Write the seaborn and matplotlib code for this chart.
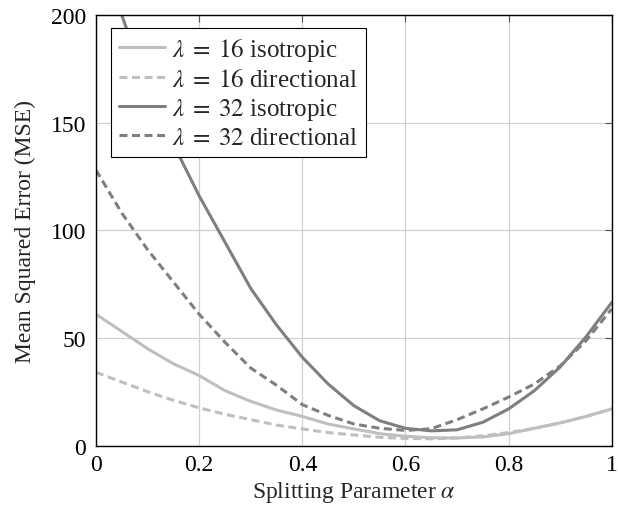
import numpy as np
import pandas as pd
import matplotlib
matplotlib.use("Agg")
import matplotlib.pyplot as plt
import seaborn as sns

# ---------------------------------------------------------------------------
# Dati
# ---------------------------------------------------------------------------

alpha = [0.0, 0.05, 0.1, 0.15, 0.2, 0.25, 0.3, 0.35, 0.4, 0.45, 0.5,
         0.55, 0.6, 0.65, 0.7, 0.75, 0.8, 0.85, 0.9, 0.95, 1.0]

mse_16_iso = [61, 53, 45, 38, 32.5, 25.5, 20.5, 16.5, 13.5, 10, 7.7,
              5.5, 4.3, 3.6, 3.5, 4, 5.5, 8, 10.5, 13.5, 17]
mse_16_dir = [34, 29.5, 25, 21, 17.5, 14.5, 12, 9.5, 7.7, 6, 4.9,
              3.8, 3.3, 3.1, 3.5, 4.5, 6, 8, 10.5, 13.5, 17]
mse_32_iso = [245, 200, 166, 140, 116, 94.5, 73, 56, 41, 28.6, 18.5,
              11.5, 8, 6.8, 7.3, 10.8, 17, 25.5, 36.5, 50.5, 66.5]
mse_32_dir = [128, 108, 91, 76, 61, 48, 36, 28, 19, 14, 10,
              8, 7, 7.8, 12, 17, 22.5, 28.6, 37, 48.7, 63.5]

etichette = [r"$\lambda\;=\;16$ isotropic", r"$\lambda\;=\;16$ directional",
             r"$\lambda\;=\;32$ isotropic", r"$\lambda\;=\;32$ directional"]

# ---------------------------------------------------------------------------
# Stile
# ---------------------------------------------------------------------------

sns.set_theme(style="whitegrid")
plt.rcParams["font.family"] = ["Liberation Serif", "DejaVu Serif"]
plt.rcParams["mathtext.fontset"] = "stix"

CHIARO = "#bfbfbf"
SCURO = "#7f7f7f"
TRATTEGGIO = (0, (2.6, 1.5))

serie = [
    (mse_16_iso, CHIARO, "-"),
    (mse_16_dir, CHIARO, TRATTEGGIO),
    (mse_32_iso, SCURO, "-"),
    (mse_32_dir, SCURO, TRATTEGGIO),
]

fig = plt.figure(figsize=(6.18, 5.10), dpi=100)
ax = fig.add_axes([0.1553, 0.1245, 0.8347, 0.8441])

for (valori, colore, stile), nome in zip(serie, etichette):
    df = pd.DataFrame({"alpha": alpha, "mse": valori})
    sns.lineplot(data=df, x="alpha", y="mse", ax=ax, color=colore,
                 linestyle=stile, linewidth=2.2, label=nome)

ax.set_xlim(0, 1)
ax.set_ylim(0, 200)
ax.set_xticks([0, 0.2, 0.4, 0.6, 0.8, 1.0])
ax.set_xticklabels(["0", "0.2", "0.4", "0.6", "0.8", "1"])
ax.set_yticks([0, 50, 100, 150, 200])
ax.grid(True, color="#d0d0d0", linewidth=0.9)
ax.set_facecolor("white")
for lato in ax.spines.values():
    lato.set_color("black")
    lato.set_linewidth(1.0)
ax.tick_params(direction="in", top=True, right=True, length=5, width=0.8,
               color="#555555", labelsize=17, labelcolor="black")
ax.tick_params(axis="x", pad=6)
ax.tick_params(axis="y", pad=7)

ax.set_xlabel(r"Splitting Parameter $\alpha$", fontsize=17, labelpad=3)
ax.set_ylabel("Mean Squared Error (MSE)", fontsize=17, labelpad=11)

leg = ax.legend(loc="upper left", fontsize=18, frameon=True, fancybox=False,
                handlelength=1.85, borderpad=0.33, labelspacing=0.2,
                handletextpad=0.25, borderaxespad=0,
                bbox_to_anchor=(0.029, 0.97))
leg.get_frame().set_edgecolor("black")
leg.get_frame().set_linewidth(0.8)
leg.get_frame().set_alpha(1.0)

fig.savefig("out.png", dpi=100)
